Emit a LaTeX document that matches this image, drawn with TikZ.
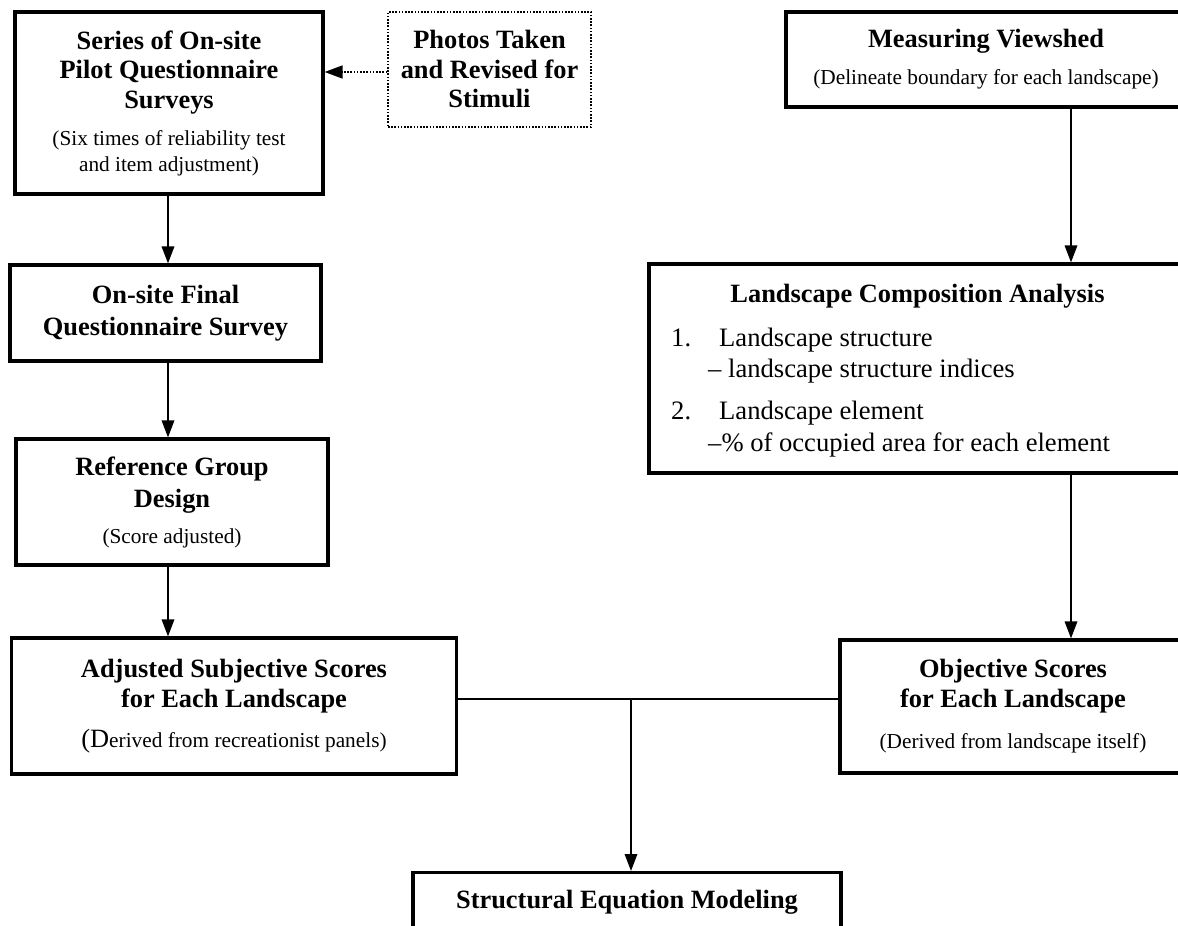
\documentclass[tikz,border=0pt]{standalone}
\usepackage{fontspec}
\setmainfont{Liberation Serif}
\usetikzlibrary{arrows.meta}
% type sizes for box titles, parenthetical notes and the numbered list
\newcommand\boxtitle{\fontsize{26.4}{29.5}\selectfont\bfseries}
\newcommand\boxnote{\fontsize{21.3}{26}\selectfont\mdseries}
\newcommand\listfont{\fontsize{26.6}{31}\selectfont\mdseries}

\begin{document}
\begin{tikzpicture}[x=1pt,y=-1pt,
  box/.style={draw, line width=3.2pt, align=center, inner sep=0pt, font=\boxtitle},
  dotbox/.style={draw, line width=1.6pt, dash pattern=on 1.6pt off 1.6pt,
                 align=center, inner sep=0pt, font=\boxtitle},
  conn/.style={line width=1.8pt},
  arr/.style={conn, -{Triangle[length=17pt,width=12.5pt]}},
  darr/.style={line width=1.6pt, dash pattern=on 1.6pt off 1.6pt,
               -{Triangle[length=18pt,width=13pt]}},
  txt/.style={inner sep=0pt},
]
\useasboundingbox (0,0) rectangle (1178,926);
\clip (0,0) rectangle (1178,926);
\fill[white] (0,0) rectangle (1178,926);

% left column: subjective scores
\node[box, minimum width=308pt, minimum height=182pt] (pilot) at (169,103)
  {Series of On-site\\Pilot Questionnaire\\Surveys\\[7.5pt]%
   {\boxnote (Six times of reliability test}\\[-3.5pt]%
   {\boxnote and item adjustment)}};
\node[dotbox, minimum width=203pt, minimum height=115pt] (photos) at (489.5,69.5)
  {Photos Taken\\and Revised for\\Stimuli};
\node[box, minimum width=311pt, minimum height=96pt] (final) at (165.5,313)
  {On-site Final\\[2.5pt]Questionnaire Survey};
\node[box, minimum width=312pt, minimum height=126pt] (refgrp) at (172,502)
  {Reference Group\\[2.5pt]Design\\[6.5pt]{\boxnote (Score adjusted)}};
\node[box, minimum width=445pt, minimum height=136pt] (adjsub) at (234,706)
  {Adjusted Subjective Scores\\for Each Landscape\\[10.5pt]%
   {\boxnote{\fontsize{26.4}{26}\selectfont(D}erived from recreationist panels)}};

% right column: objective scores
\node[box, minimum width=400pt, minimum height=95pt] (view) at (986,59.5)
  {Measuring Viewshed\\[7.5pt]{\boxnote (Delineate boundary for each landscape)}};
\node[box, minimum width=537pt, minimum height=209pt] (lca) at (917.5,368.5) {};
\node[txt, anchor=base, font=\boxtitle] (lcat) at (917.5,302) {Landscape Composition Analysis};
\node[txt, anchor=base west, font=\listfont] (lcan1) at (671,346) {1.};
\node[txt, anchor=base west, font=\listfont] (lcaa) at (719,346) {Landscape structure};
\node[txt, anchor=base west, font=\listfont] (lcab) at (708,377) {\textendash\ landscape structure indices};
\node[txt, anchor=base west, font=\listfont] (lcan2) at (671,419) {2.};
\node[txt, anchor=base west, font=\listfont] (lcac) at (719,419) {Landscape element};
\node[txt, anchor=base west, font=\listfont] (lcad) at (708,451) {\textendash\% of occupied area for each element};
\node[box, minimum width=346pt, minimum height=133pt] (objective) at (1013,706.5)
  {Objective Scores\\for Each Landscape\\[12pt]{\boxnote (Derived from landscape itself)}};

% joint result
\node[box, minimum width=428pt, anchor=north, text height=36pt, text depth=60pt] (sem) at (627,871)
  {Structural Equation Modeling};

% connectors
\coordinate (lx) at (168,0);
\draw[arr] (pilot.south -| lx) -- (final.north -| lx);
\draw[arr] (final.south -| lx) -- (refgrp.north -| lx);
\draw[arr] (refgrp.south -| lx) -- (adjsub.north -| lx);
\coordinate (dy) at (0,72);
\draw[darr] (photos.west |- dy) -- (pilot.east |- dy);
\coordinate (rx) at (1071,0);
\draw[arr] (view.south -| rx) -- (lca.north -| rx);
\draw[arr] (lca.south -| rx) -- (objective.north -| rx);
\coordinate (hy) at (0,699);
\coordinate (jx) at (631,0);
\draw[conn] (adjsub.east |- hy) -- (objective.west |- hy);
\draw[arr] (jx |- hy) -- (sem.north -| jx);
\end{tikzpicture}
\end{document}
